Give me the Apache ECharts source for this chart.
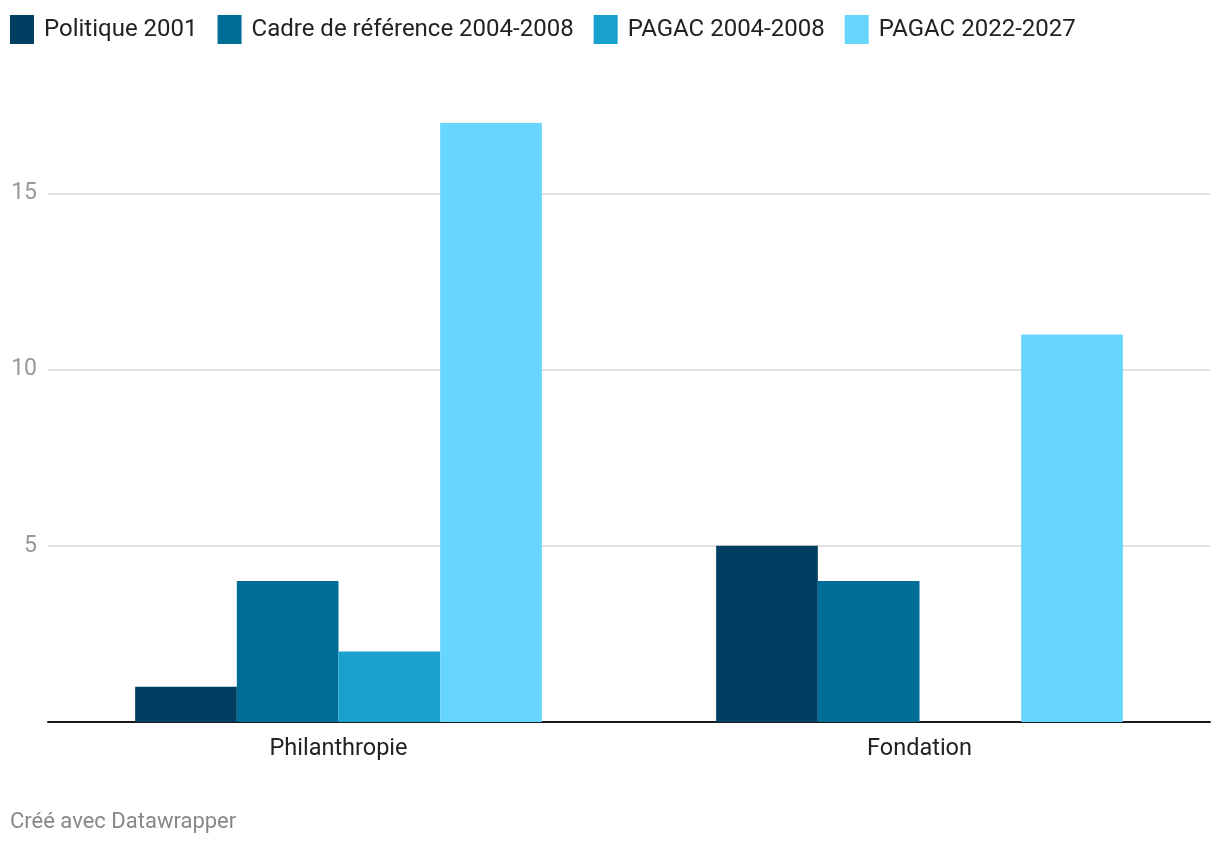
<!DOCTYPE html>
<html>
<head>
<meta charset="utf-8">
<script src="https://cdn.jsdelivr.net/npm/echarts@6/dist/echarts.min.js"></script>
<style>html,body{margin:0;padding:0;background:#fff}#c{width:1220px;height:844px}</style>
</head>
<body>
<div id="c"></div>
<script>
const categories = ['Philanthropie', 'Fondation'];
const seriesNames = ['Politique 2001', 'Cadre de référence 2004-2008', 'PAGAC 2004-2008', 'PAGAC 2022-2027'];
const politique2001 = [1, 5];
const cadre20042008 = [4, 4];
const pagac20042008 = [2, 0];
const pagac20222027 = [17, 11];
const colors = ['#003e62', '#006d97', '#18a1cd', '#68d5ff'];
const valuesBySeries = [politique2001, cadre20042008, pagac20042008, pagac20222027];

const chart = echarts.init(document.getElementById('c'), null, {renderer: 'canvas'});
chart.setOption({
  animation: false,
  textStyle: {fontFamily: 'Roboto'},
  legend: {
    left: 10, top: 15, padding: 0,
    itemWidth: 24, itemHeight: 29, itemGap: 20,
    icon: 'rect',
    textStyle: {fontSize: 24, color: '#222', fontFamily: 'Roboto', padding: [0, 0, 0, 5]},
    data: seriesNames
  },
  grid: {left: 48, right: 10, top: 123, bottom: 122, containLabel: false},
  xAxis: {
    type: 'category', data: categories,
    axisLine: {lineStyle: {color: '#1a1a1a', width: 2}},
    axisTick: {show: false},
    axisLabel: {fontSize: 23.5, color: '#222', margin: 15, fontFamily: 'Roboto'}
  },
  yAxis: {
    type: 'value', min: 0, max: 17, interval: 5,
    axisLine: {show: false}, axisTick: {show: false},
    axisLabel: {fontSize: 23, color: '#999', margin: 11, showMinLabel: false, showMaxLabel: false, fontFamily: 'Roboto'},
    splitLine: {show: true, showMinLine: false, showMaxLine: false, lineStyle: {color: '#e3e3e3', width: 2}}
  },
  series: seriesNames.map((n, i) => ({
    name: n, type: 'bar', data: valuesBySeries[i],
    itemStyle: {color: colors[i]},
    barGap: '0%', barCategoryGap: '30%'
  })),
  graphic: [{
    type: 'text', left: 10, top: 811,
    style: {text: 'Créé avec Datawrapper', fontSize: 22, fill: '#888', fontFamily: 'Roboto'}
  }]
});
</script>
</body>
</html>
